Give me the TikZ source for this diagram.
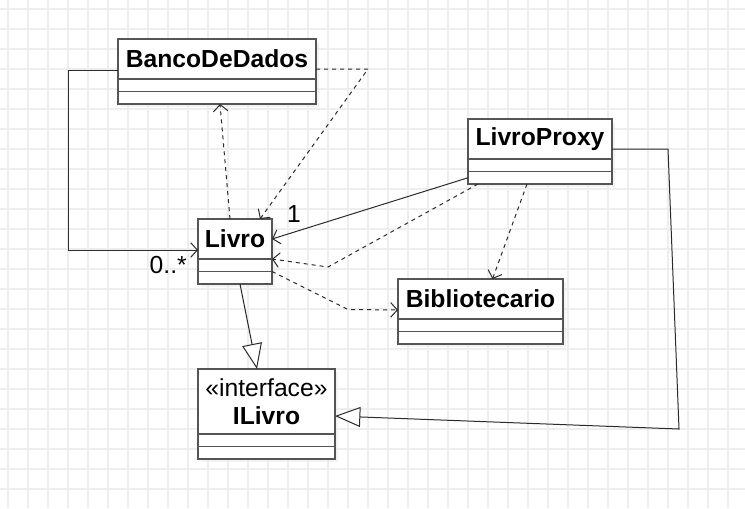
\documentclass[tikz,border=0pt]{standalone}
\usepackage{fontspec}
\setmainfont{Liberation Sans}
\usetikzlibrary{arrows.meta,positioning,calc,shadows}
\definecolor{umlgrid}{HTML}{EEEEEE}
\definecolor{umlbox}{HTML}{555555}
\definecolor{umlink}{HTML}{2B2B2B}
\definecolor{umlshade}{HTML}{E8E8E8}

\begin{document}
\begin{tikzpicture}[
  x=0.75pt,y=-0.75pt,
  font=\fontsize{18.5}{21}\selectfont,
  cls/.style={draw=umlbox,line width=1.1pt,fill=white,inner sep=0pt,outer sep=0pt,
              minimum width=#1,minimum height=30pt,align=center,
              font=\fontsize{18.5}{21}\selectfont\bfseries,
              drop shadow={shadow xshift=2pt,shadow yshift=-2pt,fill=umlshade}},
  comp/.style={draw=umlbox,line width=1.1pt,fill=white,inner sep=0pt,outer sep=0pt,
               minimum width=#1,minimum height=9.375pt,
               drop shadow={shadow xshift=2pt,shadow yshift=-2pt,fill=umlshade}},
  assoc/.style={draw=umlink,line width=0.75pt,-{Straight Barb[length=5pt,width=11pt]}},
  dep/.style={assoc,dash pattern=on 3pt off 3pt},
  inherit/.style={draw=umlink,line width=0.75pt,-{Triangle[length=19pt,width=15pt,fill=white]}},
  mult/.style={inner sep=0pt},
]
\useasboundingbox (0,0) rectangle (745,508);
\fill[white] (0,0) rectangle (745,508);

% background grid
\foreach \gx in {8,28,...,728} \draw[umlgrid,line width=1.1pt] (\gx,0) -- (\gx,508);
\foreach \gy in {9,29,...,489} \draw[umlgrid,line width=1.1pt] (0,\gy) -- (745,\gy);

% classes
\node[cls=148.5pt] (banco) at (217,59) {BancoDeDados};
\node[comp=148.5pt,below=0pt of banco] (banco1) {};
\node[comp=148.5pt,below=0pt of banco1] (banco2) {};

\node[cls=55.5pt] (livro) at (235,239) {Livro};
\node[comp=55.5pt,below=0pt of livro] (livro1) {};
\node[comp=55.5pt,below=0pt of livro1] (livro2) {};

\node[cls=108pt] (proxy) at (540,139) {LivroProxy};
\node[comp=108pt,below=0pt of proxy] (proxy1) {};
\node[comp=108pt,below=0pt of proxy1] (proxy2) {};

\node[cls=123.75pt] (biblio) at (480.5,299) {Bibliotecario};
\node[comp=123.75pt,below=0pt of biblio] (biblio1) {};
\node[comp=123.75pt,below=0pt of biblio1] (biblio2) {};

\node[cls=102.75pt,minimum height=48.75pt] (ilivro) at (266.5,401.5)
  {\mdseries«interface»\\ILivro};
\node[comp=102.75pt,below=0pt of ilivro] (ilivro1) {};
\node[comp=102.75pt,below=0pt of ilivro1] (ilivro2) {};

% associations
\draw[assoc] ($(banco.west)+(0,11)$) -- ++(-50,0) |- ($(livro.west)+(0,11)$);
\node[mult,anchor=base east] (many) at ($(livro.west)+(-11,34)$) {0..*};
\draw[assoc] (proxy2.west) -- (livro.east);
\node[mult,anchor=base] (one) at ($(livro.north east)+(22,3)$) {1};

% dependencies
\draw[dep] ($(livro.north)+(-5,0)$) -- ($(banco2.south)+(3,0)$);
\draw[dep] ($(banco.east)+(0,10)$) -- ++(52,0) -- ($(livro.north)+(25,0)$);
\draw[dep] ($(proxy2.south west)+(10,0)$) -- ++(-150,83) -- (livro1.north east);
\draw[dep] (livro2.north east) -- ++(76,38) -- ($(biblio.west)+(0,11)$);
\draw[dep] ($(proxy2.south)+(-13,0)$) -- ($(biblio.north)+(12,0)$);

% realizations
\draw[inherit] ($(livro2.south)+(5,0)$) -- ($(ilivro.north)+(-9.5,0)$);
\draw[inherit] ($(proxy.east)+(0,10)$) -- ++(56,0) -- ++(11,280) -- ($(ilivro.east)+(0,14.5)$);

\end{tikzpicture}
\end{document}
